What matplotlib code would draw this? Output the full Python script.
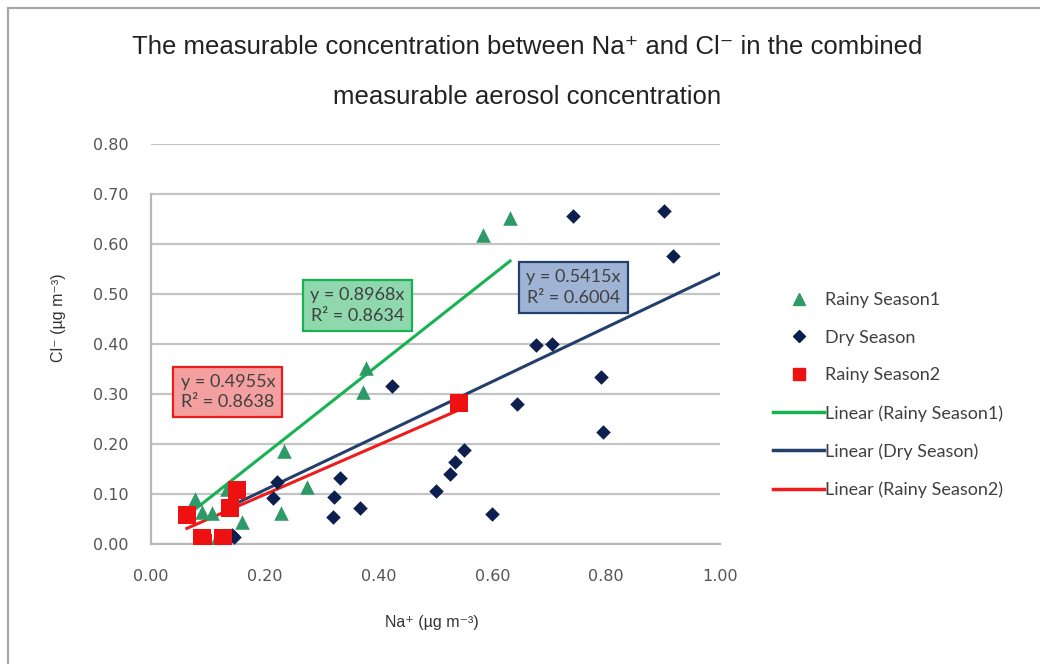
import matplotlib.pyplot as plt
from matplotlib.lines import Line2D
import numpy as np

# Rainy Season1 (green triangles)
rainy1_x = [0.078, 0.090, 0.108, 0.113, 0.134, 0.160, 0.228, 0.233, 0.275, 0.372, 0.377, 0.584, 0.631]
rainy1_y = [0.090, 0.065, 0.062, 0.005, 0.110, 0.044, 0.062, 0.186, 0.114, 0.304, 0.352, 0.618, 0.652]

# Dry Season (navy diamonds)
dry_x = [0.143, 0.145, 0.215, 0.222, 0.319, 0.321, 0.333, 0.367, 0.423, 0.501, 0.526, 0.534,
         0.550, 0.600, 0.644, 0.677, 0.705, 0.742, 0.790, 0.795, 0.901, 0.917]
dry_y = [0.018, 0.014, 0.092, 0.124, 0.054, 0.094, 0.132, 0.072, 0.316, 0.106, 0.140, 0.164,
         0.188, 0.060, 0.280, 0.398, 0.400, 0.656, 0.334, 0.224, 0.666, 0.576]

# Rainy Season2 (red squares)
rainy2_x = [0.063, 0.089, 0.091, 0.127, 0.139, 0.151, 0.541]
rainy2_y = [0.058, 0.012, 0.002, 0.012, 0.072, 0.108, 0.282]

# trendline slopes (intercept set to 0) and R^2, as printed on the chart
slope_rainy1, r2_rainy1 = 0.8968, 0.8634
slope_dry, r2_dry = 0.5415, 0.6004
slope_rainy2, r2_rainy2 = 0.4955, 0.8638
dry_trend_end = 1.0   # dry season trendline runs to the end of the axis

x_ticks = [0.0, 0.2, 0.4, 0.6, 0.8, 1.0]
y_ticks = [0.0, 0.1, 0.2, 0.3, 0.4, 0.5, 0.6, 0.7, 0.8]

green_mk = '#2e9a68'
green_ln = '#16b350'
navy_mk = '#0d1f4f'
navy_ln = '#233f6b'
red_mk = '#ee1111'
red_ln = '#ee1c1c'

fig = plt.figure(figsize=(10.4, 6.64), dpi=100)
ax = fig.add_axes([151 / 1040, 1 - 544 / 664, 569 / 1040, 400 / 664])

ax.set_xlim(0, 1.0)
ax.set_ylim(0, 0.8)
ax.set_xticks(x_ticks)
ax.set_yticks(y_ticks)
ax.set_xticklabels([f'{v:.2f}' for v in x_ticks])
ax.set_yticklabels([f'{v:.2f}' for v in y_ticks])
ax.tick_params(length=0, labelsize=11.5, colors='#555555')
ax.tick_params(axis='y', pad=16)
ax.tick_params(axis='x', pad=18)
ax.grid(axis='y', color='#c4c4c4', linewidth=1.6)
ax.set_axisbelow(True)
for side in ['top', 'right']:
    ax.spines[side].set_visible(False)
for side in ['left', 'bottom']:
    ax.spines[side].set_color('#b8b8b8')
    ax.spines[side].set_linewidth(1.6)
ax.spines['left'].set_bounds(0, 0.7)

# trendlines through origin, across each series' x range
def trend(xs, slope, end=None):
    x0 = min(xs)
    x1 = max(xs) if end is None else end
    xx = np.array([x0, x1])
    return xx, slope * xx

tx, ty = trend(rainy1_x, slope_rainy1)
ax.plot(tx, ty, color=green_ln, lw=2.2, zorder=3)
tx, ty = trend(dry_x, slope_dry, dry_trend_end)
ax.plot(tx, ty, color=navy_ln, lw=2.2, zorder=3)
tx, ty = trend(rainy2_x, slope_rainy2)
ax.plot(tx, ty, color=red_ln, lw=2.2, zorder=3)

ax.scatter(rainy1_x, rainy1_y, marker='^', s=110, color=green_mk, zorder=4, linewidths=0)
ax.scatter(dry_x, dry_y, marker='D', s=55, color=navy_mk, zorder=4, linewidths=0)
ax.scatter(rainy2_x, rainy2_y, marker='s', s=150, color=red_mk, zorder=5, linewidths=0)

box_font = dict(family=['Lato', 'DejaVu Sans'], fontsize=13, color='#404040')
ax.text(0.363, 0.477, f'y = {slope_rainy1}x\nR² = {r2_rainy1}', ha='center', va='center',
        linespacing=1.35, zorder=6, **box_font,
        bbox=dict(boxstyle='square,pad=0.4', fc='#8fd8ae', ec=green_ln, lw=1.6))
ax.text(0.135, 0.304, f'y = {slope_rainy2}x\nR² = {r2_rainy2}', ha='center', va='center',
        linespacing=1.35, zorder=6, **box_font,
        bbox=dict(boxstyle='square,pad=0.4', fc='#f5a0a0', ec=red_ln, lw=1.6))
ax.text(0.742, 0.513, f'y = {slope_dry}x\nR² = {r2_dry}', ha='center', va='center',
        linespacing=1.35, zorder=6, **box_font,
        bbox=dict(boxstyle='square,pad=0.4', fc='#9fb4d4', ec=navy_ln, lw=1.6))

# titles and axis labels
title_font = dict(family=['Liberation Sans', 'DejaVu Sans'], fontsize=18.5, color='#222222', ha='center', va='center')
fig.text(527 / 1040, 1 - 47 / 664, 'The measurable concentration between Na⁺ and Cl⁻ in the combined', **title_font)
fig.text(527 / 1040, 1 - 97 / 664, 'measurable aerosol concentration', **title_font)

lab_font = dict(family=['Liberation Sans', 'DejaVu Sans'], fontsize=11.5, color='#333333')
fig.text(432 / 1040, 1 - 622 / 664, 'Na⁺ (µg m⁻³)', ha='center', va='center', **lab_font)
fig.text(58 / 1040, 1 - 318 / 664, 'Cl⁻ (µg m⁻³)', ha='center', va='center', rotation=90, **lab_font)

# legend
handles = [
    Line2D([], [], ls='none', marker='^', ms=9, color=green_mk),
    Line2D([], [], ls='none', marker='D', ms=6, color=navy_mk),
    Line2D([], [], ls='none', marker='s', ms=9, color=red_mk),
    Line2D([], [], color=green_ln, lw=2.5),
    Line2D([], [], color=navy_ln, lw=2.5),
    Line2D([], [], color=red_ln, lw=2.5),
]
labels = ['Rainy Season1', 'Dry Season', 'Rainy Season2',
          'Linear (Rainy Season1)', 'Linear (Dry Season)', 'Linear (Rainy Season2)']
fig.legend(handles, labels, loc='center left', bbox_to_anchor=(773 / 1040, 1 - 395 / 664),
           frameon=False, borderpad=0, borderaxespad=0, handlelength=2.85, handletextpad=0.05,
           labelspacing=1.2, prop={'family': 'Lato', 'size': 13}, labelcolor='#404040')

# outer chart frame (left and top edges visible)
fig.add_artist(Line2D([8 / 1040, 8 / 1040], [0, 1 - 8 / 664], color='#a8a8a8', lw=1.6))
fig.add_artist(Line2D([8 / 1040, 1], [1 - 8 / 664, 1 - 8 / 664], color='#a8a8a8', lw=1.6))

fig.savefig('out.png', dpi=100)
